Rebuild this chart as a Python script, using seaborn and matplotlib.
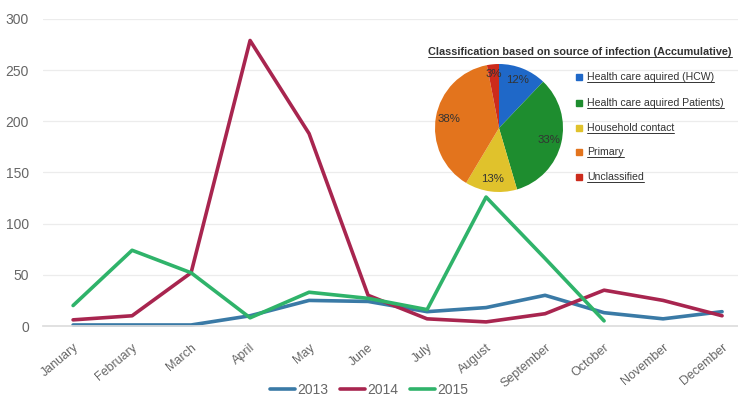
import matplotlib
matplotlib.use("Agg")
import matplotlib.pyplot as plt
import seaborn as sns
import pandas as pd
import numpy as np
from matplotlib.lines import Line2D

months = ["January", "February", "March", "April", "May", "June", "July",
          "August", "September", "October", "November", "December"]
y2013 = [1, 1, 1, 10, 25, 24, 14, 18, 30, 13, 7, 14]
y2014 = [6, 10, 52, 279, 188, 30, 7, 4, 12, 35, 25, 10]
y2015 = [20, 74, 52, 8, 33, 27, 16, 126, 66, 5]
years = ["2013", "2014", "2015"]
yticks = [0, 50, 100, 150, 200, 250, 300]

pie_labels = ["Health care aquired (HCW)", "Health care aquired Patients)",
              "Household contact", "Primary", "Unclassified"]
pie_values = [12, 33, 13, 38, 3]
pie_title = "Classification based on source of infection (Accumulative)"

rows = []
for yr, vals in zip(years, [y2013, y2014, y2015]):
    for i, v in enumerate(vals):
        rows.append({"month": i, "value": v, "year": yr})
df = pd.DataFrame(rows)

sns.set_theme(style="white")
plt.rcParams['font.family'] = ['Liberation Sans', 'DejaVu Sans']

fig = plt.figure(figsize=(7.38, 3.96), dpi=100)
ax = fig.add_axes([43/738, 1-326/396, 1-43/738, (326-19)/396])

palette = {"2013": "#3a7aa6", "2014": "#a8254f", "2015": "#2fb36a"}
sns.lineplot(data=df, x="month", y="value", hue="year", palette=palette,
             linewidth=2.6, ax=ax, legend=False)
for l in ax.lines:
    l.set_clip_on(False)

ax.set_xlim(-0.51, 11.27)
ax.set_ylim(0, 300)
ax.set_yticks(yticks)
ax.set_yticklabels([str(t) for t in yticks], color="#666666", fontsize=10)
ax.set_xticks(range(12))
ax.set_xticklabels(months, rotation=40, ha="right", rotation_mode="anchor",
                   color="#666666", fontsize=9)
ax.tick_params(axis="x", length=0, pad=11)
ax.tick_params(axis="y", length=0, pad=10)
ax.grid(axis="y", color="#ececec", linewidth=0.9)
for s in ["top", "right", "left"]:
    ax.spines[s].set_visible(False)
ax.spines["bottom"].set_color("#dddddd")
ax.set_xlabel("")
ax.set_ylabel("")

# bottom legend
handles = [Line2D([0], [0], color=palette[y], lw=2.6) for y in years]
fig.legend(handles, years, loc="lower center", bbox_to_anchor=(0.5, -0.035),
           ncol=3, frameon=False, fontsize=10, handlelength=1.8,
           columnspacing=0.8, handletextpad=0.2, labelcolor="#666666")

# pie inset
pie_colors = ["#1f68c8", "#1e8d2f", "#e0c22c", "#e3741d", "#cc2b1c"]
r = 64
cx, cy = 499, 128
pax = fig.add_axes([(cx-r)/738, 1-(cy+r)/396, 2*r/738, 2*r/396])
wedges, texts = pax.pie(pie_values, colors=pie_colors, startangle=90,
                        counterclock=False, radius=1.0,
                        wedgeprops=dict(linewidth=0))
for w, v in zip(wedges, pie_values):
    ang = np.deg2rad((w.theta1 + w.theta2) / 2)
    rr = 0.8 if v > 5 else 0.85
    pax.text(rr*np.cos(ang), rr*np.sin(ang), f"{v}%", ha="center",
             va="center", fontsize=8.2, color="#333333")
pax.set_aspect("auto")
pax.set_xlim(-1, 1)
pax.set_ylim(-1, 1)

fig.text(428/738, 1-52/396, pie_title, fontsize=7.8, fontweight="bold",
         color="#333333", va="center", ha="left")

ly = [77, 103, 128, 152, 177]
for lab, col, y in zip(pie_labels, pie_colors, ly):
    fig.patches.append(plt.Rectangle((576/738, 1-(y+3)/396), 6/738, 6/396,
                                     transform=fig.transFigure, color=col))
    fig.text(587/738, 1-y/396, lab, fontsize=7.6, color="#333333",
             va="center", ha="left")
fig.canvas.draw()
renderer = fig.canvas.get_renderer()
for t in list(fig.texts):
    bb = t.get_window_extent(renderer).transformed(fig.transFigure.inverted())
    fig.add_artist(Line2D([bb.x0, bb.x1], [bb.y0, bb.y0],
                          color="#333333", lw=0.7))

fig.savefig("out.png", dpi=100)
